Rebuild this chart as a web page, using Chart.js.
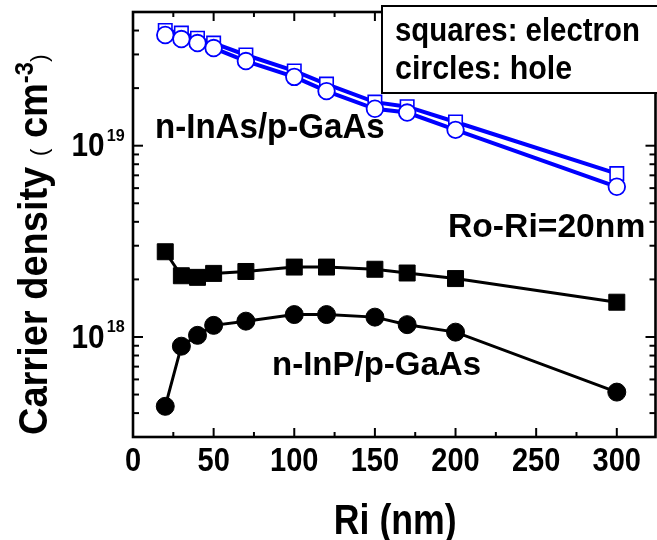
<!DOCTYPE html>
<html>
<head>
<meta charset="utf-8">
<script src="https://cdn.jsdelivr.net/npm/chart.js@4.4.1/dist/chart.umd.min.js"></script>
<style>
  html, body { margin: 0; padding: 0; background: #fff; }
  canvas { display: block; }
</style>
</head>
<body>
<canvas id="chart" width="657" height="540"></canvas>
<script>
// Ri (nm) – same sampling for every series
const riValues = [20, 30, 40, 50, 70, 100, 120, 150, 170, 200, 300];

// n-InAs/p-GaAs carrier density (cm^-3)
const inasElectron = [4.0e19, 3.88e19, 3.65e19, 3.44e19, 2.98e19, 2.46e19, 2.10e19, 1.69e19, 1.60e19, 1.33e19, 7.15e18];
const inasHole     = [3.79e19, 3.61e19, 3.44e19, 3.24e19, 2.77e19, 2.29e19, 1.93e19, 1.56e19, 1.49e19, 1.21e19, 6.1e18];

// n-InP/p-GaAs carrier density (cm^-3)
const inpElectron = [2.79e18, 2.09e18, 2.05e18, 2.15e18, 2.20e18, 2.32e18, 2.32e18, 2.26e18, 2.16e18, 2.02e18, 1.52e18];
const inpHole     = [4.34e17, 8.95e17, 1.02e18, 1.15e18, 1.21e18, 1.31e18, 1.31e18, 1.27e18, 1.16e18, 1.06e18, 5.15e17];

// axis ticks
const xTicks = [0, 50, 100, 150, 200, 250, 300];
const yDecades = [18, 19];

const SANS = '"Liberation Sans", Arial, sans-serif';

const toPoints = ys => ys.map((y, i) => ({ x: riValues[i], y }));

function series(values, color, shape, radius, fill, lineW, pointW, order) {
  return {
    data: toPoints(values),
    borderColor: color,
    borderWidth: lineW,
    pointStyle: shape,
    pointRadius: radius,
    pointBackgroundColor: fill,
    pointBorderColor: color,
    pointBorderWidth: pointW,
    tension: 0,
    order: order
  };
}

// bold text squeezed horizontally (the figure uses a condensed face)
function label(ctx, str, x, y, size, sx, align = 'left', weight = 'bold') {
  ctx.save();
  ctx.translate(x, y);
  ctx.scale(sx, 1);
  ctx.font = `${weight} ${size}px ${SANS}`;
  ctx.textAlign = align;
  ctx.textBaseline = 'alphabetic';
  ctx.fillText(str, 0, 0);
  ctx.restore();
}

// frame, mirrored tick marks, axis labels, annotations
const framePlugin = {
  id: 'frame',
  afterDraw(chart) {
    const ctx = chart.ctx;
    const { left, right, top, bottom } = chart.chartArea;
    const xs = chart.scales.x, ys = chart.scales.y;
    ctx.save();
    ctx.fillStyle = '#000';
    ctx.strokeStyle = '#000';

    const line = (x1, y1, x2, y2) => { ctx.beginPath(); ctx.moveTo(x1, y1); ctx.lineTo(x2, y2); ctx.stroke(); };

    ctx.lineWidth = 2;
    for (let v = 0; v < xs.max; v += 25) {
      const px = xs.getPixelForValue(v);
      const len = v % 50 === 0 ? 9 : 5;
      line(px, bottom, px, bottom - len);
      line(px, top, px, top + len);
    }
    for (let d = 17; d <= 19; d++) {
      for (let m = 1; m <= 9; m++) {
        const v = m * Math.pow(10, d);
        if (v <= ys.min || v >= ys.max) continue;
        const py = ys.getPixelForValue(v);
        const len = m === 1 ? 10 : 6;
        line(left, py, left + len, py);
        line(right, py, right - len, py);
      }
    }
    ctx.lineWidth = 2.6;
    ctx.strokeRect(left, top, right - left, bottom - top);

    // x tick labels and title
    xTicks.forEach(v => {
      label(ctx, String(v), xs.getPixelForValue(v), bottom + 34, 33, 0.88, 'center');
    });
    label(ctx, 'Ri (nm)', (left + right) / 2 + 1, bottom + 97, 42, 0.85, 'center');

    // y tick labels 10^n
    yDecades.forEach(d => {
      const py = ys.getPixelForValue(Math.pow(10, d));
      label(ctx, '10', left - 28.5, py + 10.7, 33, 0.9, 'right');
      label(ctx, String(d), left - 26.3, py - 5, 17, 0.95);
    });

    // y axis title
    ctx.save();
    ctx.translate(47, 435);
    ctx.rotate(-Math.PI / 2);
    ctx.scale(0.95, 1);
    ctx.textAlign = 'left';
    ctx.textBaseline = 'alphabetic';
    let cx = 0;
    const part = (str, font, dy) => {
      ctx.font = font;
      ctx.fillText(str, cx, dy);
      cx += ctx.measureText(str).width;
    };
    part('Carrier density ', `bold 40px ${SANS}`, 0);
    part('(', `24px ${SANS}`, 0);
    part(' cm', `bold 40px ${SANS}`, 0);
    part('-3', `bold 25px ${SANS}`, -14);
    part(')', `24px ${SANS}`, 0);
    ctx.restore();

    // annotations
    label(ctx, 'n-InAs/p-GaAs', 155, 138.3, 35, 0.945);
    label(ctx, 'n-InP/p-GaAs', 272, 375, 33, 1.0);
    label(ctx, 'Ro-Ri=20nm', 448, 236.7, 33, 1.02);

    // key box
    ctx.fillStyle = '#fff';
    ctx.fillRect(382, 6, 280, 87);
    ctx.lineWidth = 2;
    ctx.strokeRect(382, 6, 280, 87);
    ctx.fillStyle = '#000';
    label(ctx, 'squares: electron', 395, 40.7, 33, 0.89);
    label(ctx, 'circles: hole', 395, 79.3, 33, 0.92);
    ctx.restore();
  }
};

new Chart(document.getElementById('chart'), {
  type: 'line',
  data: {
    datasets: [
      series(inasHole, '#0000ff', 'circle', 8.3, '#ffffff', 4, 1.8, 0),
      series(inasElectron, '#0000ff', 'rect', 9.5, '#ffffff', 4, 1.6, 1),
      series(inpHole, '#000000', 'circle', 9, '#000000', 3, 1, 2),
      series(inpElectron, '#000000', 'rect', 11.3, '#000000', 3, 1, 3)
    ]
  },
  options: {
    responsive: false,
    animation: false,
    devicePixelRatio: 1,
    layout: { autoPadding: false, padding: { top: 12, right: 1.5, left: 0, bottom: 0 } },
    plugins: { legend: { display: false }, tooltip: { enabled: false } },
    scales: {
      x: {
        type: 'linear',
        min: 0,
        max: 324,
        grid: { display: false, drawTicks: false },
        border: { display: false },
        afterBuildTicks: s => { s.ticks = xTicks.map(v => ({ value: v })); },
        afterFit: s => { s.height = 103; s.paddingLeft = 0; s.paddingRight = 0; },
        ticks: { display: false }
      },
      y: {
        type: 'logarithmic',
        min: 3e17,
        max: 5e19,
        grid: { display: false, drawTicks: false },
        border: { display: false },
        ticks: { display: false },
        afterFit: s => { s.width = 133; s.paddingTop = 0; s.paddingBottom = 0; }
      }
    }
  },
  plugins: [framePlugin]
});
</script>
</body>
</html>
